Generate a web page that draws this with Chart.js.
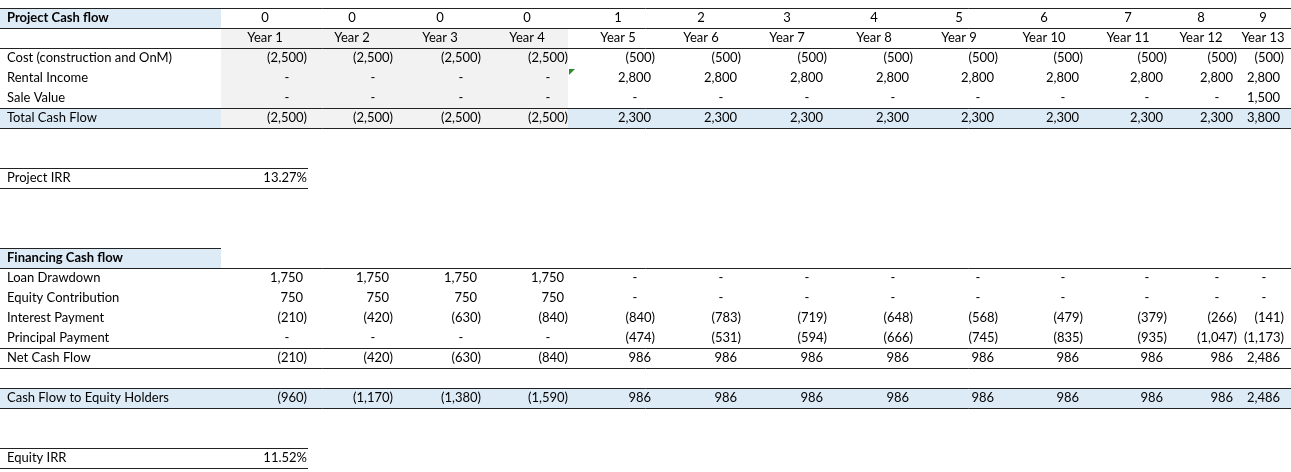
<!DOCTYPE html>
<html>
<head>
<meta charset="utf-8">
<script src="https://cdn.jsdelivr.net/npm/chart.js@4"></script>
<style>
  html, body { margin: 0; padding: 0; background: #fff; }
  #wrap { width: 1291px; height: 472px; }
</style>
</head>
<body>
<div id="wrap"><canvas id="sheet" width="1291" height="472"></canvas></div>
<script>
// --- DATA ---
const periods = [0, 0, 0, 0, 1, 2, 3, 4, 5, 6, 7, 8, 9];
const years = ["Year 1", "Year 2", "Year 3", "Year 4", "Year 5", "Year 6", "Year 7",
               "Year 8", "Year 9", "Year 10", "Year 11", "Year 12", "Year 13"];
const cost = [-2500, -2500, -2500, -2500, -500, -500, -500, -500, -500, -500, -500, -500, -500];
const rental = [null, null, null, null, 2800, 2800, 2800, 2800, 2800, 2800, 2800, 2800, 2800];
const saleValue = [null, null, null, null, null, null, null, null, null, null, null, null, 1500];
const totalCash = [-2500, -2500, -2500, -2500, 2300, 2300, 2300, 2300, 2300, 2300, 2300, 2300, 3800];
const projectIRR = "13.27%";
const loanDrawdown = [1750, 1750, 1750, 1750, null, null, null, null, null, null, null, null, null];
const equityContrib = [750, 750, 750, 750, null, null, null, null, null, null, null, null, null];
const interestPay = [-210, -420, -630, -840, -840, -783, -719, -648, -568, -479, -379, -266, -141];
const principalPay = [null, null, null, null, -474, -531, -594, -666, -745, -835, -935, -1047, -1173];
const netCash = [-210, -420, -630, -840, 986, 986, 986, 986, 986, 986, 986, 986, 2486];
const equityCash = [-960, -1170, -1380, -1590, 986, 986, 986, 986, 986, 986, 986, 986, 2486];
const equityIRR = "11.52%";

// --- LAYOUT (sheet columns in x-units, rows in y-units) ---
const colRight = [307, 393, 481, 568, 655, 741, 827, 913, 998, 1083, 1167, 1237, 1284];
const colCenter = [265, 352, 440, 527, 618, 701, 787, 874, 959, 1044, 1128, 1201, 1263];
const FONT = "13px Lato, 'Open Sans', sans-serif";
const BOLD = "bold 13px Lato, 'Open Sans', sans-serif";

const fmt = v => {
    if (v === null) return "-";
    const s = Math.abs(v).toLocaleString("en-US");
    return v < 0 ? "(" + s + ")" : s;
};

const sheetPlugin = {
    id: "sheet",
    afterDraw(chart) {
        const ctx = chart.ctx;
        const xs = chart.scales.x, ys = chart.scales.y;
        const X = v => xs.getPixelForValue(v);
        const Yt = r => ys.getPixelForValue(r);
        const Yc = r => ys.getPixelForValue(r + 0.5);

        const fill = (x0, x1, r0, r1, c) => {
            ctx.fillStyle = c;
            ctx.fillRect(X(x0), Yt(r0), X(x1) - X(x0), Yt(r1) - Yt(r0));
        };
        const hline = (x0, x1, r) => {
            ctx.strokeStyle = "#222";
            ctx.lineWidth = 1;
            ctx.beginPath();
            const y = Math.round(Yt(r)) + 0.5;
            ctx.moveTo(X(x0), y);
            ctx.lineTo(X(x1), y);
            ctx.stroke();
        };

        ctx.save();
        // backgrounds
        fill(0, 221, 0, 1, "#DDEBF7");
        fill(221, 568, 1, 5, "#F2F2F2");
        fill(0, 221, 5, 6, "#DDEBF7");
        fill(221, 568, 5, 6, "#F2F2F2");
        fill(568, 1291, 5, 6, "#DDEBF7");
        fill(0, 221, 12, 13, "#DDEBF7");
        fill(0, 1291, 19, 20, "#DDEBF7");

        // borders
        hline(0, 1291, 0); hline(0, 1291, 1); hline(0, 1291, 2);
        hline(0, 1291, 5); hline(0, 1291, 6);
        hline(0, 308, 8); hline(0, 308, 9);
        hline(0, 221, 12); hline(0, 1291, 13);
        hline(0, 1291, 17); hline(0, 1291, 18);
        hline(0, 1291, 19); hline(0, 1291, 20);
        hline(0, 308, 22); hline(0, 308, 23);

        // green comment marker
        ctx.fillStyle = "#2E8B2E";
        ctx.beginPath();
        ctx.moveTo(X(569), Yt(3) + 1);
        ctx.lineTo(X(575), Yt(3) + 1);
        ctx.lineTo(X(569), Yt(3) + 7);
        ctx.fill();

        ctx.fillStyle = "#000";
        ctx.textBaseline = "middle";
        const label = (t, r, bold) => {
            ctx.font = bold ? BOLD : FONT;
            ctx.textAlign = "left";
            ctx.fillText(t, X(7), Yc(r));
        };
        const numRow = (arr, r) => {
            ctx.font = FONT;
            arr.forEach((v, i) => {
                const right = X(colRight[i]);
                if (v === null) {
                    ctx.textAlign = "center";
                    ctx.fillText("-", right - 20, Yc(r));
                } else {
                    ctx.textAlign = "right";
                    ctx.fillText(fmt(v), v < 0 ? right : right - 4, Yc(r));
                }
            });
        };

        // headers
        label("Project Cash flow", 0, true);
        ctx.font = FONT;
        ctx.textAlign = "center";
        periods.forEach((p, i) => ctx.fillText(String(p), X(colCenter[i]), Yc(0)));
        years.forEach((y, i) => ctx.fillText(y, X(colCenter[i]), Yc(1)));

        label("Cost (construction and OnM)", 2); numRow(cost, 2);
        label("Rental Income", 3); numRow(rental, 3);
        label("Sale Value", 4); numRow(saleValue, 4);
        label("Total Cash Flow", 5); numRow(totalCash, 5);

        label("Project IRR", 8);
        ctx.textAlign = "right";
        ctx.fillText(projectIRR, X(colRight[0]), Yc(8));

        label("Financing Cash flow", 12, true);
        label("Loan Drawdown", 13); numRow(loanDrawdown, 13);
        label("Equity Contribution", 14); numRow(equityContrib, 14);
        label("Interest Payment", 15); numRow(interestPay, 15);
        label("Principal Payment", 16); numRow(principalPay, 16);
        label("Net Cash Flow", 17); numRow(netCash, 17);

        label("Cash Flow to Equity Holders", 19); numRow(equityCash, 19);

        label("Equity IRR", 22);
        ctx.font = FONT;
        ctx.textAlign = "right";
        ctx.fillText(equityIRR, X(colRight[0]), Yc(22));
        ctx.restore();
    }
};

new Chart(document.getElementById("sheet"), {
    type: "scatter",
    data: { datasets: [] },
    options: {
        responsive: false,
        animation: false,
        layout: { padding: { top: 8, bottom: 4, left: 0, right: 0 } },
        plugins: { legend: { display: false }, tooltip: { enabled: false } },
        scales: {
            x: { type: "linear", min: 0, max: 1291, display: false },
            y: { type: "linear", min: 0, max: 23, reverse: true, display: false }
        }
    },
    plugins: [sheetPlugin]
});
</script>
</body>
</html>
